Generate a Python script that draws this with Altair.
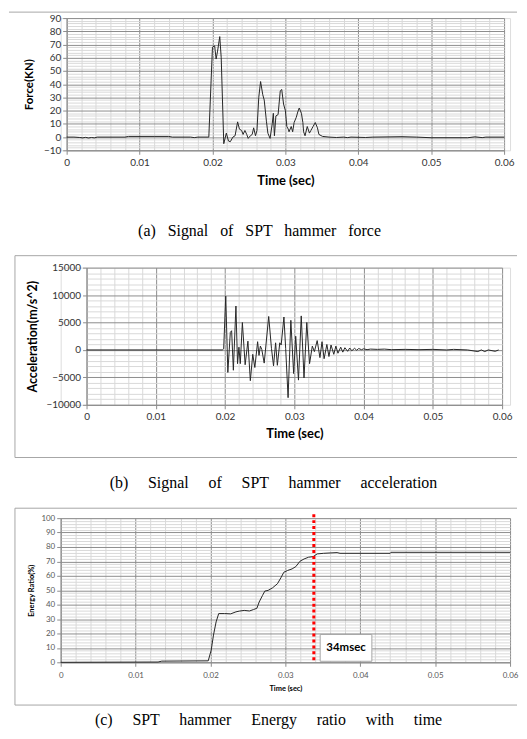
import altair as alt
import pandas as pd

# ---------------- data ----------------
force_time = [0.0, 0.001, 0.0018, 0.0022, 0.0026, 0.003, 0.0034, 0.0038, 0.0042, 0.008, 0.0085,
              0.012, 0.014, 0.0145, 0.017, 0.0175, 0.018, 0.0195,
              0.0200, 0.0203, 0.0205, 0.0207, 0.0210, 0.0212, 0.02155, 0.0219, 0.0222, 0.02245,
              0.0228, 0.0231, 0.02345, 0.0237, 0.0240, 0.0242, 0.02445, 0.0247, 0.0249, 0.0252,
              0.02545, 0.02565, 0.0259, 0.0261, 0.02635, 0.0266, 0.0269, 0.0271, 0.0274, 0.0276,
              0.0279, 0.0282, 0.02835, 0.0285, 0.0287, 0.0290, 0.0293, 0.0295, 0.02975, 0.0300,
              0.0302, 0.0304, 0.0305, 0.0308, 0.0310, 0.0312, 0.0315, 0.0317, 0.0319, 0.0322,
              0.0324, 0.0325, 0.0327, 0.0330, 0.0333, 0.0335, 0.0338, 0.0341, 0.0344, 0.0346,
              0.0351, 0.036, 0.037, 0.038, 0.0385, 0.039, 0.041, 0.042, 0.046, 0.048, 0.050,
              0.055, 0.056, 0.057, 0.0575, 0.060]
force_kn = [0, 0, -0.3, -0.6, -0.2, -0.7, -0.3, -0.6, 0, 0, 0.5,
            0.5, 0.5, 0, 0, -0.4, 0, 0,
            68, 69, 59, 65, 76, 60, -5, 3, -3, -3.5,
            0, 1, 11.5, 6, 5, 2, 5, 2, -1, 1,
            2, 7, 1, 5, 30, 42, 32, 28, 12, 3,
            -1, 10, 18, 1, 16, 17, 35, 36, 25, 20,
            8, 6, 4, 8, 4, 11, 15, 19, 22, 18,
            11, 4, 1, 8, 3, 5, 8, 11, 7, 2,
            0.5, 0, -0.3, 0, -0.4, 0, -0.3, 0, 0.3, 0, -0.5,
            -0.5, 0.2, -0.4, 0, 0]

acc_time = [0.0, 0.0196, 0.0198, 0.0201, 0.0204, 0.02076, 0.02095, 0.0212, 0.02157, 0.0218,
            0.0220, 0.0222, 0.0225, 0.0229, 0.0233, 0.02365, 0.0240, 0.0243, 0.0247, 0.0249,
            0.0251, 0.0253, 0.02565, 0.0263, 0.0267, 0.0270, 0.0273, 0.02755, 0.0279, 0.0281,
            0.0285, 0.02875, 0.0291, 0.0295, 0.0299, 0.0302, 0.0306, 0.0310, 0.0314, 0.0318,
            0.0322, 0.0326, 0.0329, 0.0333, 0.0337, 0.0340, 0.0343, 0.0347, 0.0350, 0.0353,
            0.0357, 0.0360, 0.0363, 0.0367, 0.0370, 0.0373, 0.0377, 0.0380, 0.0383, 0.0387,
            0.0390, 0.0393, 0.0397, 0.0400, 0.0405, 0.041, 0.042, 0.043, 0.044, 0.046,
            0.048, 0.050, 0.052, 0.053, 0.055, 0.0565, 0.057, 0.0575, 0.058, 0.059, 0.0595]
acc_ms2 = [0, 0, 200, 9800, -4100, 3200, 3500, -3700, 8000, -2500,
           500, -2500, 5000, -2700, 1600, -5600, -800, -3200, 1500, -1000,
           700, 100, -2400, 6100, 300, -2900, 1300, -2800, 1300, 900,
           6000, 300, -8700, 5400, -4300, 2500, -5500, 6200, -5100, 5000,
           -2500, 700, -300, 1700, -1400, 1500, -1600, 1000, -1200, 900,
           -800, 700, -600, 500, -400, 400, -250, 350, -150, 300,
           -50, 250, 50, 200, 50, 150, 100, 150, 50, 100,
           50, 100, 0, 100, 0, -300, 0, -300, 0, -250, 0]

energy_time = [0.0, 0.013, 0.0135, 0.0197, 0.0201, 0.0204, 0.02075, 0.0211, 0.0219, 0.0227,
               0.0234, 0.02385, 0.0245, 0.0252, 0.02575, 0.0262, 0.0265, 0.02695, 0.02726, 0.0277,
               0.0283, 0.02894, 0.0294, 0.0298, 0.0303, 0.0309, 0.0314, 0.03195, 0.0325, 0.0331,
               0.0337, 0.03425, 0.0351, 0.0369, 0.0373, 0.044, 0.0441, 0.060]
energy_pct = [0, 0.2, 0.8, 1.0, 8.5, 18.9, 28, 33.8, 33.8, 33.6,
              35, 35.5, 36, 35.6, 36.6, 37.5, 41.8, 46.4, 49.4, 49.9,
              51.7, 54.5, 58.6, 62.5, 63.7, 64.8, 66.4, 70.1, 71.7, 72.9,
              73.3, 75.2, 75.6, 76.1, 75.6, 75.6, 76.3, 76.3]

marker_time = [0.0338]
marker_label = ["34msec"]
label_box = {"t": 0.03465, "t2": 0.04155, "v": 19.3, "v2": 0.7}
label_pos = {"t": 0.0381, "v": 9.7}

x_ticks = [round(i * 0.002, 3) for i in range(31)]
force_ticks = list(range(-10, 91, 2))
acc_ticks = list(range(-10000, 15001, 1000))
energy_ticks = list(range(0, 101, 2))

cap_words = [
    ["(a)", "Signal", "of", "SPT", "hammer", "force"],
    ["(b)", "Signal", "of", "SPT", "hammer", "acceleration"],
    ["(c)", "SPT", "hammer", "Energy", "ratio", "with", "time"],
]
captions = [
    (" " + "\u00a0" * 2).join(cap_words[0]),
    (" " + "\u00a0" * 4).join(cap_words[1]),
    (" " + "\u00a0" * 4).join(cap_words[2]),
]

# ---------------- styling ----------------
FONT = "Lato"
MAJOR = "#8c8c8c"
MINOR = "#d9d9d9"
LINE = "#262626"
BOX = "#a6a6a6"
MAJ_X = "abs(datum.value * 100 - round(datum.value * 100)) < 0.000001"
W = 452  # common group width; panels (a),(b) use a narrower scale range inside it


def x_axis(label_size, label_color, title_size, label_pad, title_pad):
    return alt.Axis(
        values=x_ticks, title="Time (sec)", grid=True,
        gridColor={"condition": {"test": MAJ_X, "value": MAJOR}, "value": MINOR},
        tickOpacity={"condition": {"test": MAJ_X, "value": 1}, "value": 0},
        tickColor=MAJOR, tickSize=4, domainColor=MAJOR,
        labelExpr="(" + MAJ_X + ") ? format(datum.value, '~g') : ''",
        labelFont=FONT, labelFontSize=label_size, labelColor=label_color,
        labelPadding=label_pad, labelOverlap=False, labelFlush=False,
        titleFont=FONT, titleFontSize=title_size, titleFontWeight="bold",
        titleColor="black", titlePadding=title_pad,
    )


def y_axis(values, step, title, label_size, label_color, title_size, title_pad, offset):
    test = "datum.value % " + str(step) + " === 0"
    return alt.Axis(
        values=values, title=title, grid=True, offset=offset, format="d",
        gridColor={"condition": {"test": test, "value": MAJOR}, "value": MINOR},
        tickOpacity={"condition": {"test": test, "value": 1}, "value": 0},
        tickColor=MAJOR, tickSize=4, domainColor=MAJOR,
        labelExpr="(" + test + ") ? datum.label : ''",
        labelFont=FONT, labelFontSize=label_size, labelColor=label_color,
        labelPadding=2, labelOverlap=False,
        titleFont=FONT, titleFontSize=title_size, titleFontWeight="bold",
        titleColor="black", titlePadding=title_pad,
    )


ONE = alt.Data(values=[{}])


def frame(y1, y2):
    return alt.Chart(ONE).mark_rect(opacity=0).encode(
        x=alt.value(-52), x2=alt.value(459), y=alt.value(y1), y2=alt.value(y2))


def caption(text, cx, cy):
    return alt.Chart(ONE).mark_text(
        text=text, font="Liberation Serif", fontSize=16, color="black",
        align="center", baseline="middle").encode(x=alt.value(cx), y=alt.value(cy))


def hline(x1, x2, y):
    return alt.Chart(ONE).mark_rule(color=BOX, strokeWidth=1).encode(
        x=alt.value(x1), x2=alt.value(x2), y=alt.value(y))


def open_box(y1, y2):
    # frame around a panel that runs off the right edge of the page (no right side)
    left = alt.Chart(ONE).mark_rule(color=BOX, strokeWidth=1).encode(
        x=alt.value(-46), y=alt.value(y1), y2=alt.value(y2))
    return [left, hline(-46, 459, y1), hline(-46, 459, y2)]


# ---------------- panel (a) ----------------
df_a = pd.DataFrame({"t": force_time, "v": force_kn})
xa = x_axis(10, "#333333", 13, 3, 7)
ya = y_axis(force_ticks, 10, "Force(KN)", 10, "#333333", 11.5, 9, -6)
line_a = alt.Chart(df_a).mark_line(color=LINE, strokeWidth=1).encode(
    x=alt.X("t:Q", scale=alt.Scale(domain=[0, 0.06], nice=False, range=[6, 446]), axis=xa),
    y=alt.Y("v:Q", scale=alt.Scale(domain=[-10, 90], nice=False), axis=ya),
)
panel_a = alt.layer(frame(-7, 229), hline(-52, 459, -6), line_a,
                    caption(captions[0], 200, 214)).properties(width=W, height=133)

# ---------------- panel (b) ----------------
df_b = pd.DataFrame({"t": acc_time, "v": acc_ms2})
xb = x_axis(10, "#333333", 13, 3, 6)
yb = y_axis(acc_ticks, 5000, "Acceleration(m/s^2)", 10, "#333333", 12.5, 7, -26)
line_b = alt.Chart(df_b).mark_line(color=LINE, strokeWidth=1).encode(
    x=alt.X("t:Q", scale=alt.Scale(domain=[0, 0.06], nice=False, range=[26, 444]), axis=xb),
    y=alt.Y("v:Q", scale=alt.Scale(domain=[-10000, 15000], nice=False), axis=yb),
)
panel_b = alt.layer(frame(-20, 228), *open_box(-12, 191), line_b,
                    caption(captions[1], 214, 217)).properties(width=W, height=138)

# ---------------- panel (c) ----------------
df_c = pd.DataFrame({"t": energy_time, "v": energy_pct})
xsc = alt.Scale(domain=[0, 0.06], nice=False)
xc = x_axis(8, "#595959", 7.5, 5, 5)
yc = y_axis(energy_ticks, 10, "Energy Ratio(%)", 8, "#595959", 7.5, 5, 0)
ysc = alt.Scale(domain=[0, 100], nice=False)
line_c = alt.Chart(df_c).mark_line(color=LINE, strokeWidth=1).encode(
    x=alt.X("t:Q", scale=xsc, axis=xc),
    y=alt.Y("v:Q", scale=ysc, axis=yc),
)
marker = alt.Chart(pd.DataFrame({"t": marker_time})).mark_rule(
    color="#ff0000", strokeWidth=3, strokeDash=[3, 3]).encode(
    x=alt.X("t:Q", scale=xsc, axis=xc), y=alt.value(-4), y2=alt.value(145))
lbox = alt.Chart(pd.DataFrame([label_box])).mark_rect(
    fill="white", stroke=BOX, strokeWidth=1).encode(
    x=alt.X("t:Q", scale=xsc, axis=xc), x2="t2:Q",
    y=alt.Y("v:Q", scale=ysc, axis=yc), y2="v2:Q")
ltext = alt.Chart(pd.DataFrame([{**label_pos, "label": marker_label[0]}])).mark_text(
    font=FONT, fontSize=11.5, fontWeight="bold", color="black",
    align="center", baseline="middle").encode(
    x=alt.X("t:Q", scale=xsc, axis=xc),
    y=alt.Y("v:Q", scale=ysc, axis=yc), text="label:N")
panel_c = alt.layer(frame(-22, 217), *open_box(-10, 188), line_c,
                    marker, lbox, ltext,
                    caption(captions[2], 209, 203)).properties(width=W, height=145)

chart = alt.concat(panel_a, panel_b, panel_c, columns=1, align="none", spacing=0,
                   padding=0).configure_view(stroke=None).configure(background="white")

chart.save("out.html", embed_options={"renderer": "svg", "actions": False})
